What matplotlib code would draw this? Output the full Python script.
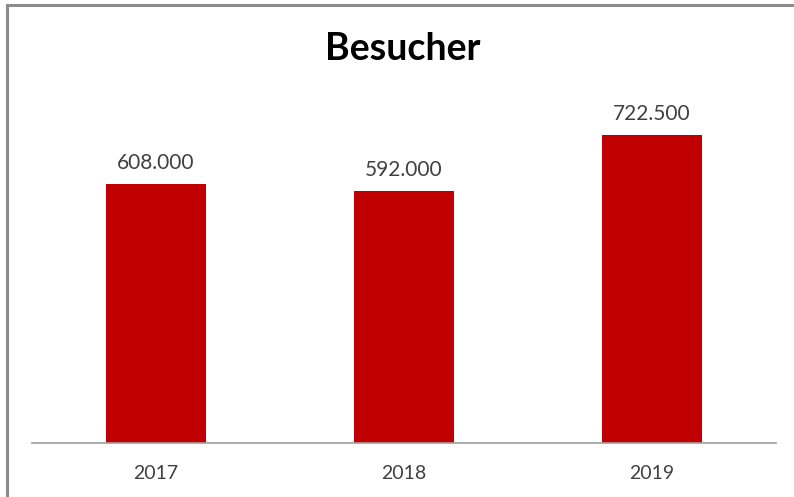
import matplotlib.pyplot as plt
from matplotlib.patches import Rectangle

# data
jahre = ['2017', '2018', '2019']
besucher = [608000, 592000, 722500]
labels = ['608.000', '592.000', '722.500']

plt.rcParams['font.family'] = ['Lato', 'DejaVu Sans']

fig = plt.figure(figsize=(7.94, 4.97), dpi=100)
W, H = 794, 497

# chart border (only top/left visible in the crop)
fig.patches.append(Rectangle((7 / W, -0.2), 2.0, (H - 5) / H + 0.2,
                             transform=fig.transFigure, fill=False,
                             edgecolor='#8c8c8c', linewidth=2.2))

ax = fig.add_axes([32 / W, (H - 443) / H, 744 / W, 343 / H])
x = range(len(jahre))
ax.bar(x, besucher, width=0.4, color='#C00000')
ax.set_xlim(-0.5, 2.5)
ax.set_ylim(0, 343 / (259 / 608000))

for i, v in enumerate(besucher):
    ax.annotate(labels[i], (i, v), xytext=(0, 8), textcoords='offset points',
                ha='center', va='bottom', fontsize=15, color='#404040')

ax.set_xticks(list(x))
ax.set_xticklabels(jahre, fontsize=14, color='#404040')
ax.tick_params(axis='x', length=0, pad=16)
ax.set_yticks([])
for s in ['top', 'right', 'left']:
    ax.spines[s].set_visible(False)
ax.spines['bottom'].set_color('#a0a0a0')
ax.spines['bottom'].set_linewidth(1.2)

fig.text(403 / W, 1 - 49 / H, 'Besucher', ha='center', va='center',
         fontsize=27, fontweight='bold', color='black')

fig.savefig('out.png', dpi=100)
